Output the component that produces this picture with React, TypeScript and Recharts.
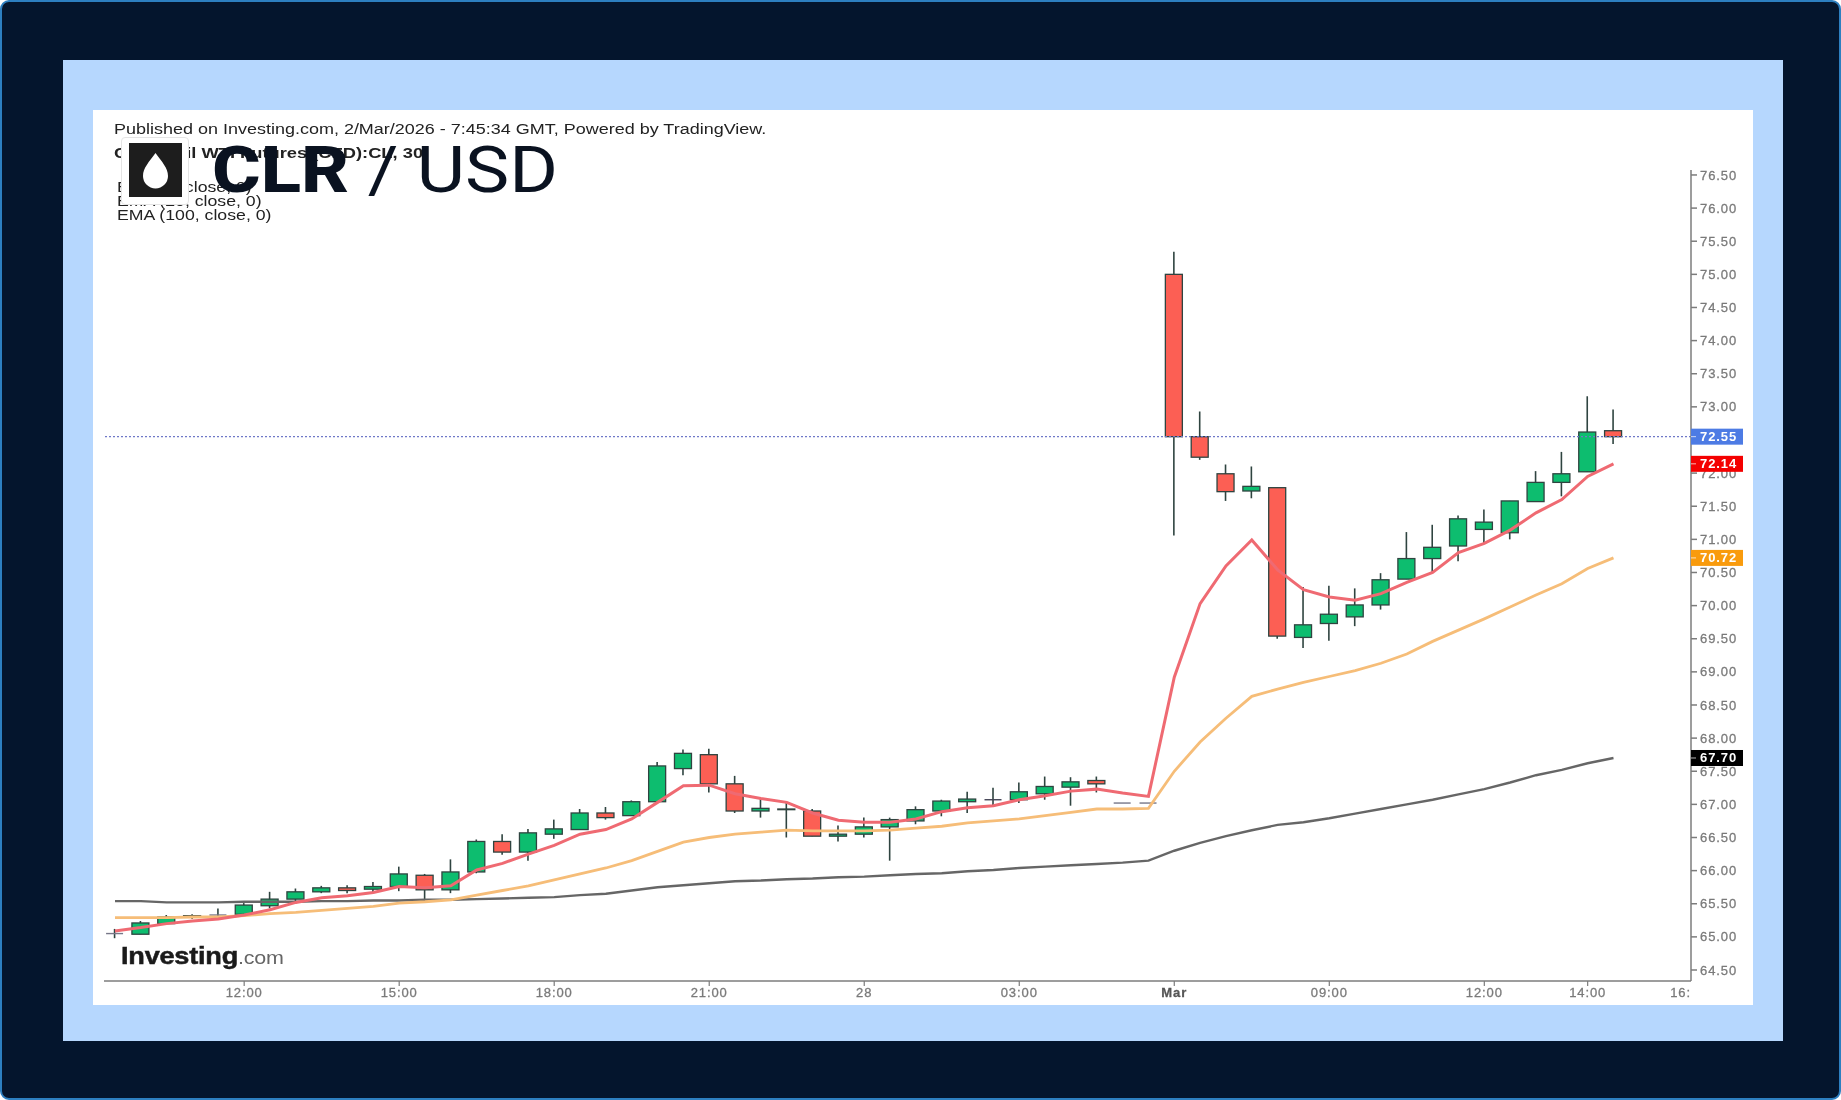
import React from "react";
import { ComposedChart, Bar, Line, XAxis, YAxis, ReferenceLine } from "recharts";

const times = [
  "09:30","10:00","10:30","11:00","11:30","12:00","12:30","13:00","13:30","14:00",
  "14:30","15:00","15:30","16:00","16:30","17:00","17:30","18:00","18:30","19:00",
  "19:30","20:00","20:30","21:00","21:30","22:00","22:30","23:00","23:30","28",
  "00:30","01:00","01:30","02:00","02:30","03:00","03:30","04:00","04:30","05:00",
  "05:30","Mar","06:30","07:00","07:30","08:00","08:30","09:00","09:30","10:00",
  "10:30","11:00","11:30","12:00","12:30","13:00","13:30","14:00","14:30",
];
const opens = [
  65.05,65.04,65.20,65.30,65.33,65.34,65.47,65.57,65.68,65.74,
  65.72,65.76,65.93,65.71,65.98,66.44,66.28,66.55,66.62,66.87,
  66.83,67.04,67.54,67.75,67.31,66.90,66.93,66.90,66.52,66.55,
  66.66,66.75,66.90,67.04,67.07,67.07,67.16,67.26,67.36,67.02,
  67.02,75.00,72.55,71.99,71.73,71.78,69.52,69.73,69.83,70.01,
  70.40,70.71,70.90,71.15,71.10,71.57,71.86,72.02,72.64,
];
const closes = [
  65.05,65.21,65.30,65.32,65.33,65.48,65.57,65.68,65.74,65.70,
  65.76,65.95,65.71,65.98,66.44,66.28,66.57,66.63,66.87,66.80,
  67.04,67.58,67.77,67.31,66.90,66.94,66.92,66.52,66.55,66.66,
  66.77,66.92,67.05,67.08,67.07,67.19,67.27,67.34,67.31,67.02,
  67.02,72.55,72.24,71.72,71.80,69.54,69.71,69.87,70.01,70.39,
  70.71,70.88,71.31,71.26,71.58,71.86,71.99,72.62,72.55,
];
const highs = [
  65.12,65.24,65.33,65.34,65.43,65.51,65.68,65.73,65.77,65.78,
  65.83,66.06,65.95,66.17,66.47,66.55,66.63,66.77,66.93,66.96,
  67.06,67.64,67.83,67.84,67.43,67.09,67.04,66.93,66.68,66.80,
  66.80,66.97,67.07,67.19,67.25,67.33,67.42,67.41,67.42,67.02,
  67.02,75.34,72.93,72.13,72.10,71.78,70.28,70.30,70.26,70.49,
  71.11,71.22,71.36,71.45,71.58,72.03,72.32,73.16,72.96,
];
const lows = [
  64.98,65.04,65.18,65.27,65.30,65.34,65.43,65.52,65.66,65.66,
  65.67,65.69,65.56,65.66,65.96,66.24,66.15,66.48,66.62,66.77,
  66.83,67.04,67.44,67.18,66.87,66.80,66.50,66.52,66.44,66.50,
  66.15,66.70,66.82,66.87,66.96,67.02,67.07,66.98,67.18,67.02,
  67.02,71.06,72.20,71.58,71.62,69.50,69.36,69.47,69.69,69.94,
  70.40,70.50,70.67,70.93,71.00,71.57,71.65,72.02,72.44,
];
const emaFast = [
  65.09,65.14,65.20,65.24,65.27,65.33,65.41,65.52,65.59,65.62,
  65.67,65.76,65.74,65.77,66.01,66.11,66.25,66.38,66.55,66.62,
  66.78,67.03,67.28,67.29,67.16,67.09,67.03,66.87,66.76,66.73,
  66.73,66.78,66.89,66.95,66.98,67.07,67.13,67.20,67.23,67.17,
  67.12,68.92,70.03,70.60,70.99,70.54,70.24,70.13,70.08,70.18,
  70.35,70.50,70.80,70.94,71.14,71.40,71.60,71.95,72.14,
];
const emaMid = [
  65.29,65.29,65.29,65.30,65.30,65.32,65.35,65.37,65.40,65.43,
  65.46,65.51,65.53,65.56,65.63,65.70,65.77,65.86,65.95,66.04,
  66.15,66.29,66.43,66.50,66.55,66.58,66.61,66.60,66.60,66.60,
  66.61,66.64,66.67,66.72,66.75,66.78,66.83,66.88,66.93,66.93,
  66.94,67.50,67.94,68.30,68.63,68.74,68.84,68.93,69.02,69.13,
  69.27,69.46,69.63,69.80,69.98,70.16,70.33,70.56,70.72,
];
const emaSlow = [
  65.54,65.54,65.52,65.52,65.52,65.53,65.53,65.53,65.54,65.54,
  65.55,65.55,65.56,65.56,65.57,65.58,65.59,65.60,65.63,65.65,
  65.70,65.75,65.78,65.81,65.84,65.85,65.87,65.88,65.90,65.91,
  65.93,65.95,65.96,65.99,66.01,66.04,66.06,66.08,66.10,66.12,
  66.15,66.30,66.42,66.52,66.61,66.69,66.73,66.79,66.86,66.93,
  67.00,67.07,67.15,67.23,67.33,67.44,67.52,67.62,67.70,
];
const priceTicks = [
  64.5,65,65.5,66,66.5,67,67.5,68,68.5,69,69.5,70,70.5,71,71.5,72,73,73.5,74,74.5,75,75.5,76,76.5,
];
const timeTickPositions = [5,11,17,23,29,35,41,47,53,57,61];
const timeTickLabels = ["12:00","15:00","18:00","21:00","28","03:00","Mar","09:00","12:00","14:00","16:"];
const lastPrice = 72.55;
const emaLabels = ["EMA (9, close, 0)","EMA (20, close, 0)","EMA (100, close, 0)"];

const rows = times.map((time, i) => ({
  i, time,
  open: opens[i], close: closes[i],
  range: [lows[i], highs[i]],
  emaFast: emaFast[i], emaMid: emaMid[i], emaSlow: emaSlow[i],
}));

const UP = "#0dbd6f";
const DOWN = "#fc5f54";
const EDGE = "#2f4440";
const AXIS = "#7c7c7c";
const TICK_TEXT = "#7a7a7a";
const FONT = "'Liberation Sans', Arial, sans-serif";

function Candle(props: any) {
  const { x, y, width, height, payload } = props;
  const [low, high] = payload.range;
  const span = high - low;
  const perUnit = span > 0 ? height / span : 0;
  const cx = x + width / 2;
  const top = Math.max(payload.open, payload.close);
  const bottom = Math.min(payload.open, payload.close);
  const bodyY = y + (high - top) * perUnit;
  const bodyH = (top - bottom) * perUnit;
  const flat = bodyH < 0.5;
  const fill = payload.close >= payload.open ? UP : DOWN;
  return (
    <g>
      {span > 0 && <line x1={cx} x2={cx} y1={y} y2={y + height} stroke={EDGE} strokeWidth={1.6} />}
      {flat ? (
        <line x1={x} x2={x + width} y1={bodyY} y2={bodyY} stroke={span > 0.2 ? "#445" : "#778"} strokeWidth={1.4} />
      ) : (
        <rect x={x} y={bodyY} width={width} height={bodyH} fill={fill} stroke={EDGE} strokeWidth={1.3} />
      )}
    </g>
  );
}

function TimeTick(props: any) {
  const { x, y, payload } = props;
  const idx = timeTickPositions.indexOf(payload.value);
  const label = timeTickLabels[idx];
  const last = idx === timeTickPositions.length - 1;
  return (
    <g>
      {!last && <line x1={x} x2={x} y1={y - 8} y2={y - 3} stroke={AXIS} strokeWidth={1.2} />}
      <text
        x={x}
        y={y + 8}
        textAnchor={last ? "end" : "middle"}
        fill={label === "Mar" ? "#555" : TICK_TEXT}
        stroke={label === "Mar" ? "#555" : TICK_TEXT}
        strokeWidth={0.3}
        fontFamily={FONT}
        fontSize={13}
        fontWeight={label === "Mar" ? 700 : 400}
        letterSpacing={0.9}
      >
        {label}
      </text>
    </g>
  );
}

function priceTag(bg: string, text: string) {
  return (props: any) => {
    const { viewBox } = props;
    const right = viewBox.x + viewBox.width;
    return (
      <g>
        <rect x={right} y={viewBox.y - 8} width={52} height={16} fill={bg} />
        <line x1={right} x2={right + 5} y1={viewBox.y} y2={viewBox.y} stroke="#fff" strokeOpacity={0.7} strokeWidth={1} />
        <text x={right + 9} y={viewBox.y + 4.5} fill="#fff" fontFamily={FONT} fontSize={13} fontWeight={700} letterSpacing={0.9}>
          {text}
        </text>
      </g>
    );
  };
}

const abs = (left: number, top: number, extra: React.CSSProperties = {}): React.CSSProperties => ({
  position: "absolute", left, top, whiteSpace: "nowrap", lineHeight: 1, ...extra,
});
const stretch = (k: number): React.CSSProperties => ({ transform: `scaleX(${k})`, transformOrigin: "left top" });

export default function App() {
  const tagZ: any = { zIndex: 2000 };
  return (
    <div style={{ position: "absolute", left: 0, top: 0, width: 1841, height: 1100, overflow: "hidden", background: "#04152d", boxSizing: "border-box", border: "2px solid #2d7fc0", borderRadius: 9 }}>
      <div style={{ position: "absolute", left: 61, top: 58, width: 1720, height: 981, background: "#b6d7fe" }} />
      <div style={{ position: "absolute", left: 91, top: 108, width: 1660, height: 895, background: "#ffffff" }} />
      <div style={{ position: "absolute", left: -2, top: -2, width: 1841, height: 1100, filter: "blur(0.45px)" }}>
        <ComposedChart
          width={1841}
          height={1100}
          data={rows}
          margin={{ left: 104, top: 170, right: 0, bottom: 0 }}
          style={{ position: "absolute", left: 0, top: 0 }}
        >
          <XAxis
            dataKey="i"
            type="number"
            domain={[-0.4257, 61]}
            ticks={timeTickPositions}
            interval={0}
            height={119}
            stroke={AXIS}
            strokeWidth={1.5}
            tickLine={false}
            tick={<TimeTick />}
            allowDataOverflow
          />
          <YAxis
            orientation="right"
            domain={[64.334, 76.575]}
            ticks={priceTicks}
            interval={0}
            width={150}
            stroke={AXIS}
            strokeWidth={1.5}
            tickSize={6}
            tickMargin={3}
            tickFormatter={(v: number) => v.toFixed(2)}
            tick={{ fill: TICK_TEXT, stroke: TICK_TEXT, strokeWidth: 0.3, fontFamily: FONT, fontSize: 13, letterSpacing: 0.9 }}
            allowDataOverflow
          />
          <ReferenceLine y={lastPrice} stroke="#6f78c8" strokeDasharray="2 2" strokeWidth={1.2} />
          <Line dataKey="emaSlow" stroke="#666666" strokeWidth={2.4} dot={false} isAnimationActive={false} />
          <Line dataKey="emaMid" stroke="#f6bd78" strokeWidth={2.8} dot={false} isAnimationActive={false} />
          <Line dataKey="emaFast" stroke="#ef6a72" strokeWidth={3} dot={false} isAnimationActive={false} />
          <Bar dataKey="range" barSize={17} shape={<Candle />} isAnimationActive={false} />
          <ReferenceLine {...tagZ} y={lastPrice} stroke="none" label={priceTag("#4d7be4", "72.55")} />
          <ReferenceLine {...tagZ} y={emaFast[emaFast.length - 1]} stroke="none" label={priceTag("#f40000", "72.14")} />
          <ReferenceLine {...tagZ} y={emaMid[emaMid.length - 1]} stroke="none" label={priceTag("#f99b0d", "70.72")} />
          <ReferenceLine {...tagZ} y={emaSlow[emaSlow.length - 1]} stroke="none" label={priceTag("#000000", "67.70")} />
        </ComposedChart>

        <div style={abs(114, 120.5, { fontFamily: FONT, fontSize: 15.5, color: "#222", ...stretch(1.16) })}>
          Published on Investing.com, 2/Mar/2026 - 7:45:34 GMT, Powered by TradingView.
        </div>
        <div style={abs(114, 145, { fontFamily: FONT, fontSize: 15, fontWeight: 700, color: "#222", ...stretch(1.22) })}>
          Crude Oil WTI Futures,(CFD):CL, 30
        </div>
        {emaLabels.map((t, i) => (
          <div key={t} style={abs(117, 178.5 + i * 14.3, { fontFamily: FONT, fontSize: 15, color: "#222", ...stretch(1.18) })}>{t}</div>
        ))}

        <div style={abs(121, 137, { width: 68, height: 68, background: "#fff", border: "1px solid #e4e4e4", borderRadius: 4, boxSizing: "border-box" })} />
        <svg style={abs(129, 143)} width={53} height={54} viewBox="0 0 53 54">
          <rect width={53} height={54} fill="#1d1d1d" />
          <path d="M26.5 10 C 33 19, 39 25, 39 33 A 12.5 12.5 0 0 1 14 33 C 14 25, 20 19, 26.5 10 Z" fill="#fff" />
        </svg>
        <div style={abs(212, 138, { fontFamily: "Roboto, sans-serif", fontSize: 65, color: "#0a1220", ...stretch(1.145) })}>
          <span style={{ fontWeight: 800 }}>CLR</span>
          <span style={{ fontWeight: 400 }}> / USD</span>
        </div>

        <div style={abs(121, 944, { fontFamily: FONT, fontSize: 24, fontWeight: 700, color: "#1a1a1a", letterSpacing: -0.2, WebkitTextStroke: "0.5px #1a1a1a", ...stretch(1.13) })}>
          Investing<span style={{ fontWeight: 400, fontSize: 19, color: "#666", WebkitTextStroke: "0" }}>.com</span>
        </div>
      </div>
    </div>
  );
}
